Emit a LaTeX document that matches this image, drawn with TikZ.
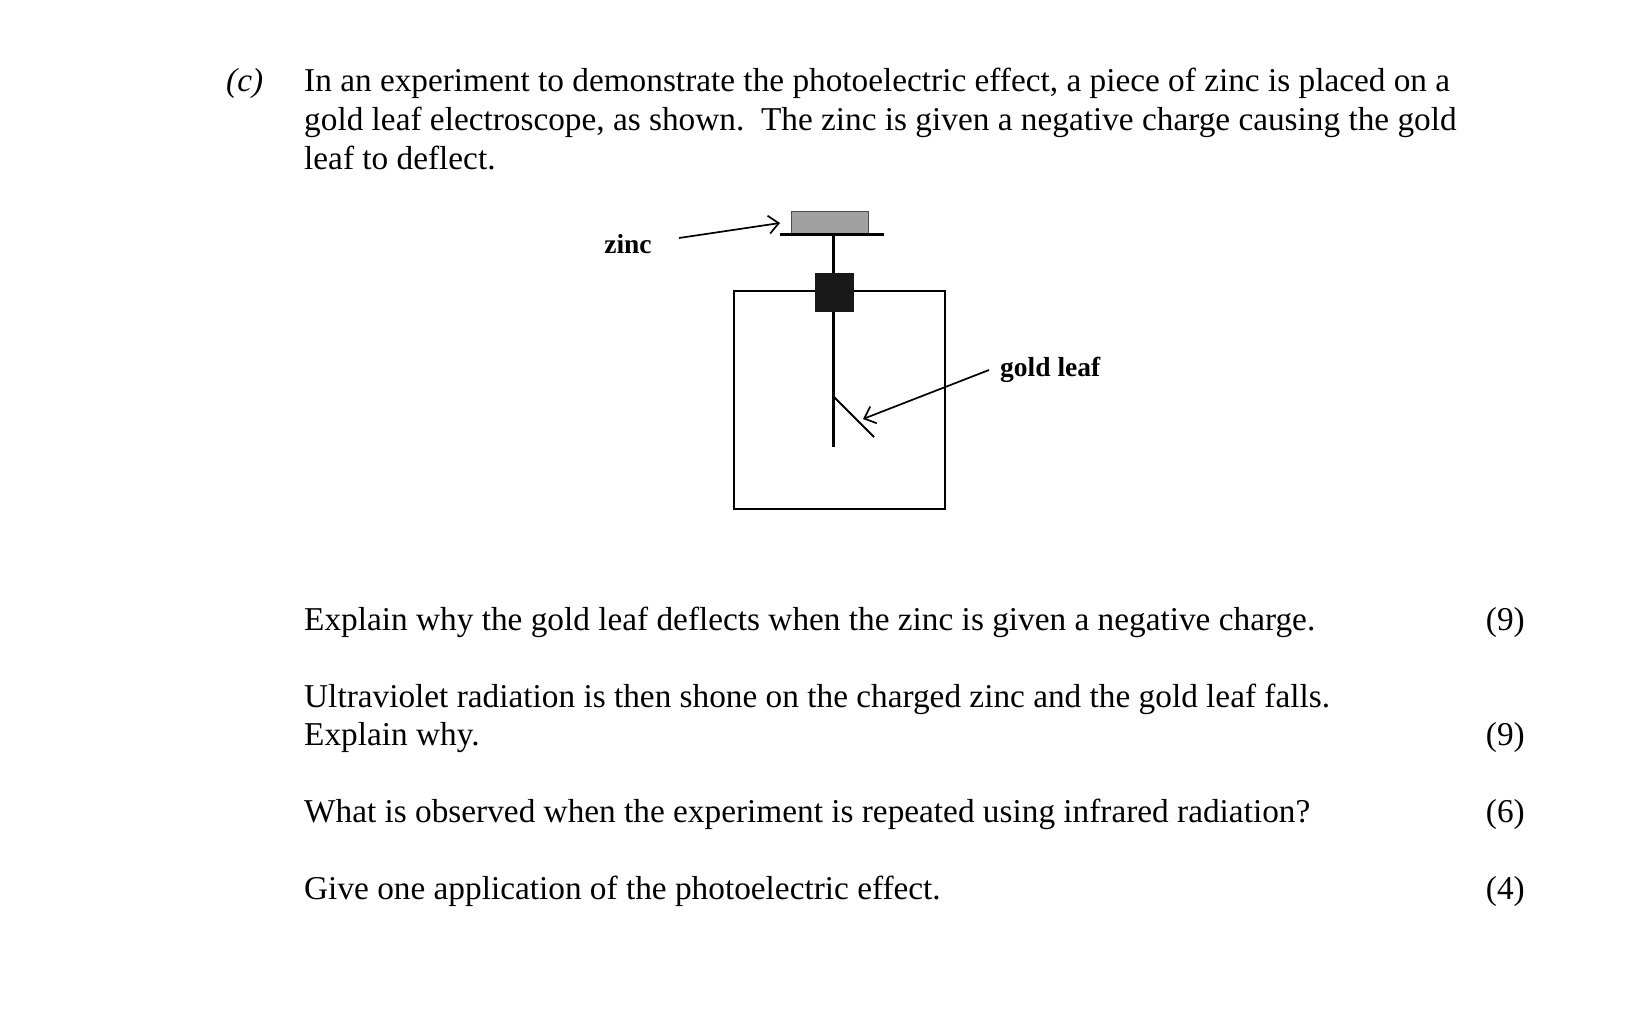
\documentclass[tikz,border=0pt]{standalone}
\usepackage{fontspec}
\usetikzlibrary{arrows.meta}
\setmainfont{Liberation Serif}
\begin{document}
\begin{tikzpicture}[x=1pt,y=-1pt,
  txt/.style={anchor=base west,inner sep=0,font=\fontsize{33.3}{39}\selectfont},
  mk/.style={anchor=base east,inner sep=0,font=\fontsize{33.3}{39}\selectfont},
  lbl/.style={inner sep=0,font=\bfseries\fontsize{27.5}{30}\selectfont},
  ar/.style={-{Straight Barb[length=10pt,width=18pt]},line width=1.7pt}]
\useasboundingbox (0,0) rectangle (1648,1024);
\node[txt] (c) at (226,92) {\itshape (c)};
\node[txt] (l1) at (304,92) {In an experiment to demonstrate the photoelectric effect, a piece of zinc is placed on a};
\node[txt] (l2) at (304,131) {gold leaf electroscope, as shown.\ \ The zinc is given a negative charge causing the gold};
\node[txt] (l3) at (304,170) {leaf to deflect.};
% apparatus
\draw[line width=1.2pt] (734,291) rectangle (945,509);
\draw[fill=gray!70!white!85!gray,draw=gray!60!black,line width=0.8pt] (791,211) rectangle (868,233);
\draw[line width=3pt] (780,235) -- (884,235);
\draw[line width=3pt] (833,235) -- (833,447);
\fill[black!90] (815,273) rectangle (854,312);
\draw[line width=2pt] (833,396) -- (874,437);
\coordinate (leaf) at (863,419);
\coordinate (zplate) at (780,223);
\node[lbl] (zinc) at (628,244) {zinc};
\node[lbl,anchor=west] (gold) at (1000,370) {gold leaf};
\draw[ar] (679,238) -- (zplate);
\draw[ar] (989,370) -- (leaf);
% questions
\node[txt] (q1) at (304,630) {Explain why the gold leaf deflects when the zinc is given a negative charge.};
\node[mk] (m1) at (1525,630) {(9)};
\node[txt] (q2) at (304,707) {Ultraviolet radiation is then shone on the charged zinc and the gold leaf falls.};
\node[txt] (q2b) at (304,745) {Explain why.};
\node[mk] (m2) at (1525,745) {(9)};
\node[txt] (q3) at (304,822) {What is observed when the experiment is repeated using infrared radiation?};
\node[mk] (m3) at (1525,822) {(6)};
\node[txt] (q4) at (304,899) {Give one application of the photoelectric effect.};
\node[mk] (m4) at (1525,899) {(4)};
\end{tikzpicture}
\end{document}
